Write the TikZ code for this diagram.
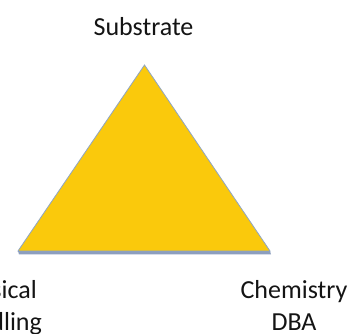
\documentclass[tikz,border=0pt]{standalone}
\usepackage{fontspec}
\setmainfont{Carlito}
\definecolor{triyellow}{RGB}{250,201,12}
\definecolor{triedge}{RGB}{142,165,196}
\definecolor{trishadow}{RGB}{140,158,190}
\definecolor{labeltext}{RGB}{20,20,20}
\tikzset{
  lbl/.style={font=\fontsize{26}{32}\selectfont, text=labeltext, inner sep=0pt, anchor=base},
}
\begin{document}
\begin{tikzpicture}[x=1pt,y=1pt]
\useasboundingbox (0,0) rectangle (357,334);
\clip (0,0) rectangle (357,334);
\fill[white] (0,0) rectangle (357,334);
\coordinate (A) at (144.5,269);
\coordinate (L) at (18,83);
\coordinate (R) at (270,83);
% shadow
\fill[trishadow] ([shift={(1,-3.5)}]L) -- ([shift={(1,-3.5)}]R) -- (R) -- (L) -- cycle;
\filldraw[fill=triyellow, draw=triedge, line width=0.8pt, line join=miter] (A) -- (R) -- (L) -- cycle;
\node[lbl] (sub) at (143.5,298) {Substrate};
\node[lbl] (chem) at (294,35) {Chemistry};
\node[lbl] (dba) at (294,3.5) {DBA};
\node[lbl] (phys) at (-5,35) {Physical};
\node[lbl] (hand) at (-5,3.5) {Handling};
\end{tikzpicture}
\end{document}
